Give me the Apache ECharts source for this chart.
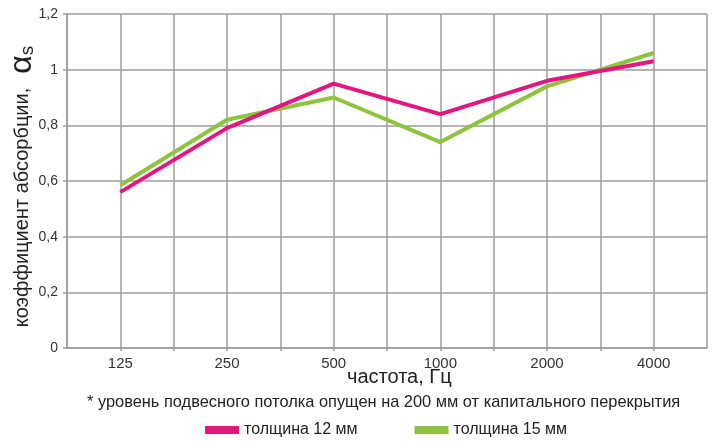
<!DOCTYPE html>
<html><head><meta charset="utf-8">
<script src="https://cdn.jsdelivr.net/npm/echarts@6/dist/echarts.min.js"></script>
<style>html,body{margin:0;padding:0;background:#fff}#c{width:720px;height:441px}</style>
</head><body><div id="c"></div>
<script>
var categories = ['125', '250', '500', '1000', '2000', '4000'];
var thick12 = [0.56, 0.79, 0.95, 0.84, 0.96, 1.03];
var thick15 = [0.585, 0.82, 0.90, 0.74, 0.94, 1.06];
var yTicks = [0, 0.2, 0.4, 0.6, 0.8, 1, 1.2];
var seriesNames = ['толщина 12 мм', 'толщина 15 мм'];

function pos(i) { return 2 * i + 1; }
function toData(arr) { return arr.map(function (v, i) { return [pos(i), v]; }); }

var chart = echarts.init(document.getElementById('c'));
var font = 'Liberation Sans, Arial, sans-serif';
var gridColor = '#9d9d9d';
chart.setOption({
  animation: false,
  textStyle: { fontFamily: font },
  grid: { left: 67, right: 13, top: 14, bottom: 93, outerBoundsMode: 'none', containLabel: false },
  xAxis: {
    type: 'value', min: 0, max: 12, interval: 1,
    axisLine: { show: true, lineStyle: { color: gridColor, width: 1.5 } },
    axisTick: { show: true, length: 3, lineStyle: { color: gridColor, width: 1.5 } },
    splitLine: { show: true, lineStyle: { color: gridColor, width: 1.5 } },
    axisLabel: {
      color: '#333', fontSize: 15, margin: 8, showMinLabel: false, showMaxLabel: false,
      formatter: function (v) { return (v % 2 === 1) ? categories[(v - 1) / 2] : ''; }
    }
  },
  yAxis: {
    type: 'value', min: 0, max: 1.2, interval: 0.2,
    axisLine: { show: true, lineStyle: { color: gridColor, width: 1.5 } },
    axisTick: { show: true, length: 4, lineStyle: { color: gridColor, width: 1.5 } },
    splitLine: { show: true, lineStyle: { color: gridColor, width: 1.5 } },
    axisLabel: {
      color: '#333', fontSize: 14, margin: 9,
      formatter: function (v) { return String(parseFloat(v.toFixed(1))).replace('.', ','); }
    },
    name: '{a|коэффициент абсорбции,}{g| }{b|α}{c|s}',
    nameLocation: 'middle', nameRotate: 90, nameGap: 29, nameMoveOverlap: false,
    nameTextStyle: {
      rich: {
        a: { fontSize: 20, color: '#222', fontFamily: font },
        g: { fontSize: 20, width: 14 },
        b: { fontSize: 32, color: '#222', fontFamily: font },
        c: { fontSize: 19, color: '#222', fontFamily: font, padding: [12, 11, 0, 0] }
      }
    }
  },
  legend: {
    data: seriesNames, left: 200, top: 417, icon: 'rect', itemWidth: 34, itemHeight: 8,
    itemGap: 57, textStyle: { color: '#222', fontSize: 16, fontFamily: font }
  },
  graphic: [
    { type: 'text', left: 347, top: 367, style: { text: 'частота, Гц', font: '20px ' + font, fill: '#222' } },
    { type: 'text', left: 87, top: 394, style: { text: '* уровень подвесного потолка опущен на 200 мм от капитального перекрытия', font: '16.4px ' + font, fill: '#222' } }
  ],
  series: [
    { name: seriesNames[1], type: 'line', data: toData(thick15), symbol: 'none', lineStyle: { width: 4, color: '#8cc43e' }, itemStyle: { color: '#8cc43e' } },
    { name: seriesNames[0], type: 'line', data: toData(thick12), symbol: 'none', lineStyle: { width: 4, color: '#e5157f' }, itemStyle: { color: '#e5157f' } }
  ]
});
</script></body></html>
